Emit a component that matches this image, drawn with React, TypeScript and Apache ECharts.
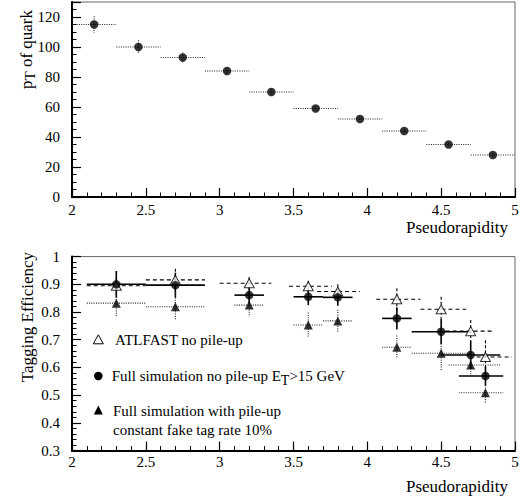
import React, { useEffect, useRef } from "react";
import * as echarts from "echarts";

const FONT = "Liberation Serif";

// ---------- Top panel: pT of quark vs pseudorapidity ----------
const ptEta = [2.15, 2.45, 2.75, 3.05, 3.35, 3.65, 3.95, 4.25, 4.55, 4.85];
const ptBinLo = [2.0, 2.3, 2.6, 2.9, 3.2, 3.5, 3.8, 4.1, 4.4, 4.7];
const ptBinHi = [2.3, 2.6, 2.9, 3.2, 3.5, 3.8, 4.1, 4.4, 4.7, 5.0];
const ptValues = [115, 100, 93, 84, 70, 59, 52, 44, 35, 28];
const ptErrors = [5.5, 4.5, 3.3, 2, 2, 1.5, 1.5, 1.2, 1, 1];

// ---------- Bottom panel: tagging efficiency ----------
const effEta = [2.3, 2.7, 3.2, 3.6, 3.8, 4.2, 4.5, 4.7, 4.8];

const atlName = "ATLFAST no pile-up";
const atlValues = [0.895, 0.916, 0.904, 0.893, 0.874, 0.846, 0.81, 0.731, 0.638];
const atlErrors = [0.03, 0.04, 0.022, 0.02, 0.026, 0.04, 0.045, 0.04, 0.06];
const atlLo = [2.1, 2.5, 3.0, 3.47, 3.66, 4.06, 4.36, 4.53, 4.74];
const atlHi = [2.5, 2.9, 3.35, 3.76, 3.95, 4.36, 4.67, 4.86, 4.98];

const fullName = "Full simulation no pile-up ET>15 GeV";
const fullValues = [0.9, 0.897, 0.861, 0.855, 0.853, 0.777, 0.729, 0.645, 0.569];
const fullErrors = [0.048, 0.045, 0.03, 0.03, 0.03, 0.04, 0.045, 0.05, 0.035];
const fullLo = [2.1, 2.5, 3.1, 3.5, 3.7, 4.1, 4.3, 4.5, 4.62];
const fullHi = [2.5, 2.9, 3.3, 3.7, 3.9, 4.3, 4.7, 4.9, 4.92];

const puName = "Full simulation with pile-up";
const puNote = "constant fake tag rate 10%";
const puValues = [0.832, 0.819, 0.825, 0.753, 0.768, 0.673, 0.651, 0.609, 0.509];
const puErrors = [0.048, 0.05, 0.042, 0.045, 0.04, 0.042, 0.06, 0.045, 0.035];
const puLo = [2.1, 2.5, 3.1, 3.5, 3.7, 4.1, 4.3, 4.55, 4.62];
const puHi = [2.5, 2.9, 3.3, 3.7, 3.9, 4.3, 4.7, 4.9, 4.92];

const xTickLabels = ["2", "2.5", "3", "3.5", "4", "4.5", "5"];

function errRows(xs: number[], ys: number[], lo: number[], hi: number[], err: number[]) {
  return xs.map((x, i) => [x, ys[i], lo[i], hi[i], err[i]]);
}

function makeErrorSeries(name: string, gridIdx: number, data: number[][], hStyle: any, vStyle: any) {
  return {
    type: "custom",
    name,
    xAxisIndex: gridIdx,
    yAxisIndex: gridIdx,
    z: 1,
    silent: true,
    encode: { x: 0, y: 1 },
    data,
    renderItem: (params: any, api: any) => {
      const x = api.value(0);
      const y = api.value(1);
      const lo = api.value(2);
      const hi = api.value(3);
      const e = api.value(4);
      const pl = api.coord([lo, y]);
      const ph = api.coord([hi, y]);
      const pt = api.coord([x, y + e]);
      const pb = api.coord([x, y - e]);
      return {
        type: "group",
        children: [
          { type: "line", shape: { x1: pl[0], y1: pl[1], x2: ph[0], y2: ph[1] }, style: { fill: "none", ...hStyle } },
          { type: "line", shape: { x1: pt[0], y1: pt[1], x2: pb[0], y2: pb[1] }, style: { fill: "none", ...vStyle } },
        ],
      };
    },
  };
}

function axisCommon() {
  return {
    axisLine: { show: true, onZero: false, lineStyle: { color: "#000", width: 2 } },
    axisTick: { show: true, inside: true, length: 9, lineStyle: { color: "#000", width: 1.2 } },
    minorTick: { show: true, length: 4.5, lineStyle: { color: "#000", width: 1 } },
    splitLine: { show: false },
    minorSplitLine: { show: false },
  };
}

function measure(text: string, size: number): number {
  const c = document.createElement("canvas").getContext("2d");
  if (!c) return text.length * size * 0.45;
  c.font = `${size}px ${FONT}`;
  return c.measureText(text).width;
}

function txt(text: string, x: number, y: number, size: number, align = "left") {
  return {
    type: "text",
    x,
    y,
    style: { text, fontFamily: FONT, fontSize: size, fill: "#000", align, verticalAlign: "middle" },
  };
}

export default function App() {
  const ref = useRef<HTMLDivElement>(null);

  useEffect(() => {
    if (!ref.current) return;
    const chart = echarts.init(ref.current, undefined, { renderer: "svg" });

    const labelStyle = { fontFamily: FONT, fontSize: 15, color: "#000" };

    const xAxisBase = (gridIndex: number, margin: number) => ({
      type: "value",
      gridIndex,
      min: 2,
      max: 5,
      interval: 0.5,
      ...axisCommon(),
      minorTick: { ...axisCommon().minorTick, splitNumber: 5 },
      axisLabel: {
        ...labelStyle,
        margin,
        formatter: (v: number) => xTickLabels[Math.round((v - 2) / 0.5)] ?? String(v),
      },
    });

    const dotted = { stroke: "#222", lineWidth: 1.1, lineDash: [1, 1.3] };
    const dashed = { stroke: "#000", lineWidth: 1.1, lineDash: [4, 3] };
    const solid = { stroke: "#000", lineWidth: 1.6 };

    // legend text pieces (E_T subscript)
    const l2x = 111.7;
    const l2a = "Full simulation no pile-up E";
    const l2aW = measure(l2a, 15);
    const l2tW = measure("T", 14);

    // y-axis title pieces (p_T of quark), rotated group, right-aligned at local x = 0
    const pW = measure("p", 17);
    const tW = measure("T", 15);
    const restW = measure(" of quark", 17);
    const total = pW + tW + restW;

    const option: any = {
      animation: false,
      grid: [
        { left: 72, right: 10, top: 2, height: 195, show: true, borderColor: "#666", borderWidth: 1 },
        { left: 72, right: 10, top: 256.6, height: 194, show: true, borderColor: "#666", borderWidth: 1 },
      ],
      xAxis: [xAxisBase(0, 5), xAxisBase(1, 4)],
      yAxis: [
        {
          type: "value",
          gridIndex: 0,
          min: 0,
          max: 130,
          interval: 20,
          ...axisCommon(),
          minorTick: { ...axisCommon().minorTick, splitNumber: 4 },
          axisLabel: { ...labelStyle, margin: 12, showMaxLabel: false },
        },
        {
          type: "value",
          gridIndex: 1,
          min: 0.3,
          max: 1,
          interval: 0.1,
          ...axisCommon(),
          minorTick: { ...axisCommon().minorTick, splitNumber: 5 },
          axisLabel: { ...labelStyle, margin: 12 },
        },
      ],
      graphic: [
        // legend
        {
          type: "polygon",
          shape: { points: [[93.3, 343.8], [103.3, 343.8], [98.3, 334.8]] },
          style: { fill: "#fff", stroke: "#000", lineWidth: 1 },
        },
        txt(atlName, 115, 339.5, 15),
        { type: "circle", shape: { cx: 98.3, cy: 376, r: 4.25 }, style: { fill: "#000" } },
        txt(l2a, l2x, 376, 15),
        txt("T", l2x + l2aW, 380, 14),
        txt(">15 GeV", l2x + l2aW + l2tW, 376, 15),
        {
          type: "polygon",
          shape: { points: [[93.8, 414.5], [102.8, 414.5], [98.3, 405.5]] },
          style: { fill: "#000" },
        },
        txt(puName, 113, 410.5, 15),
        txt(puNote, 113, 429.5, 15),
        // axis titles
        txt("Pseudorapidity", 508, 227, 17, "right"),
        txt("Pseudorapidity", 508, 486, 17, "right"),
        {
          type: "group",
          x: 26,
          y: 10,
          rotation: Math.PI / 2,
          children: [
            txt("p", -total, 0, 17),
            txt("T", -total + pW, 4, 15),
            txt(" of quark", -restW, 0, 17),
          ],
        },
        {
          type: "group",
          x: 27,
          y: 252,
          rotation: Math.PI / 2,
          children: [txt("Tagging Efficiency", 0, 0, 17, "right")],
        },
      ],
      series: [
        makeErrorSeries("pT errors", 0, errRows(ptEta, ptValues, ptBinLo, ptBinHi, ptErrors), dotted, dotted),
        {
          type: "scatter",
          name: "pT of quark",
          xAxisIndex: 0,
          yAxisIndex: 0,
          z: 3,
          symbol: "circle",
          symbolSize: 8.5,
          itemStyle: { color: "#000" },
          data: ptEta.map((x, i) => [x, ptValues[i]]),
        },
        makeErrorSeries(atlName + " err", 1, errRows(effEta, atlValues, atlLo, atlHi, atlErrors), dashed, { ...dashed, lineDash: [3, 2] }),
        makeErrorSeries(fullName + " err", 1, errRows(effEta, fullValues, fullLo, fullHi, fullErrors), solid, solid),
        makeErrorSeries(puName + " err", 1, errRows(effEta, puValues, puLo, puHi, puErrors), dotted, dotted),
        {
          type: "scatter",
          name: atlName,
          xAxisIndex: 1,
          yAxisIndex: 1,
          z: 3,
          symbol: "triangle",
          symbolSize: [10, 9],
          itemStyle: { color: "#fff", borderColor: "#000", borderWidth: 1 },
          data: effEta.map((x, i) => [x, atlValues[i]]),
        },
        {
          type: "scatter",
          name: fullName,
          xAxisIndex: 1,
          yAxisIndex: 1,
          z: 4,
          symbol: "circle",
          symbolSize: 8.5,
          itemStyle: { color: "#000" },
          data: effEta.map((x, i) => [x, fullValues[i]]),
        },
        {
          type: "scatter",
          name: puName,
          xAxisIndex: 1,
          yAxisIndex: 1,
          z: 4,
          symbol: "triangle",
          symbolSize: [9, 9],
          itemStyle: { color: "#000" },
          data: effEta.map((x, i) => [x, puValues[i]]),
        },
      ],
    };

    chart.setOption(option);
    return () => chart.dispose();
  }, []);

  return (
    <div ref={ref} style={{ position: "fixed", left: 0, top: 0, width: 525, height: 496, background: "#fff" }} />
  );
}
